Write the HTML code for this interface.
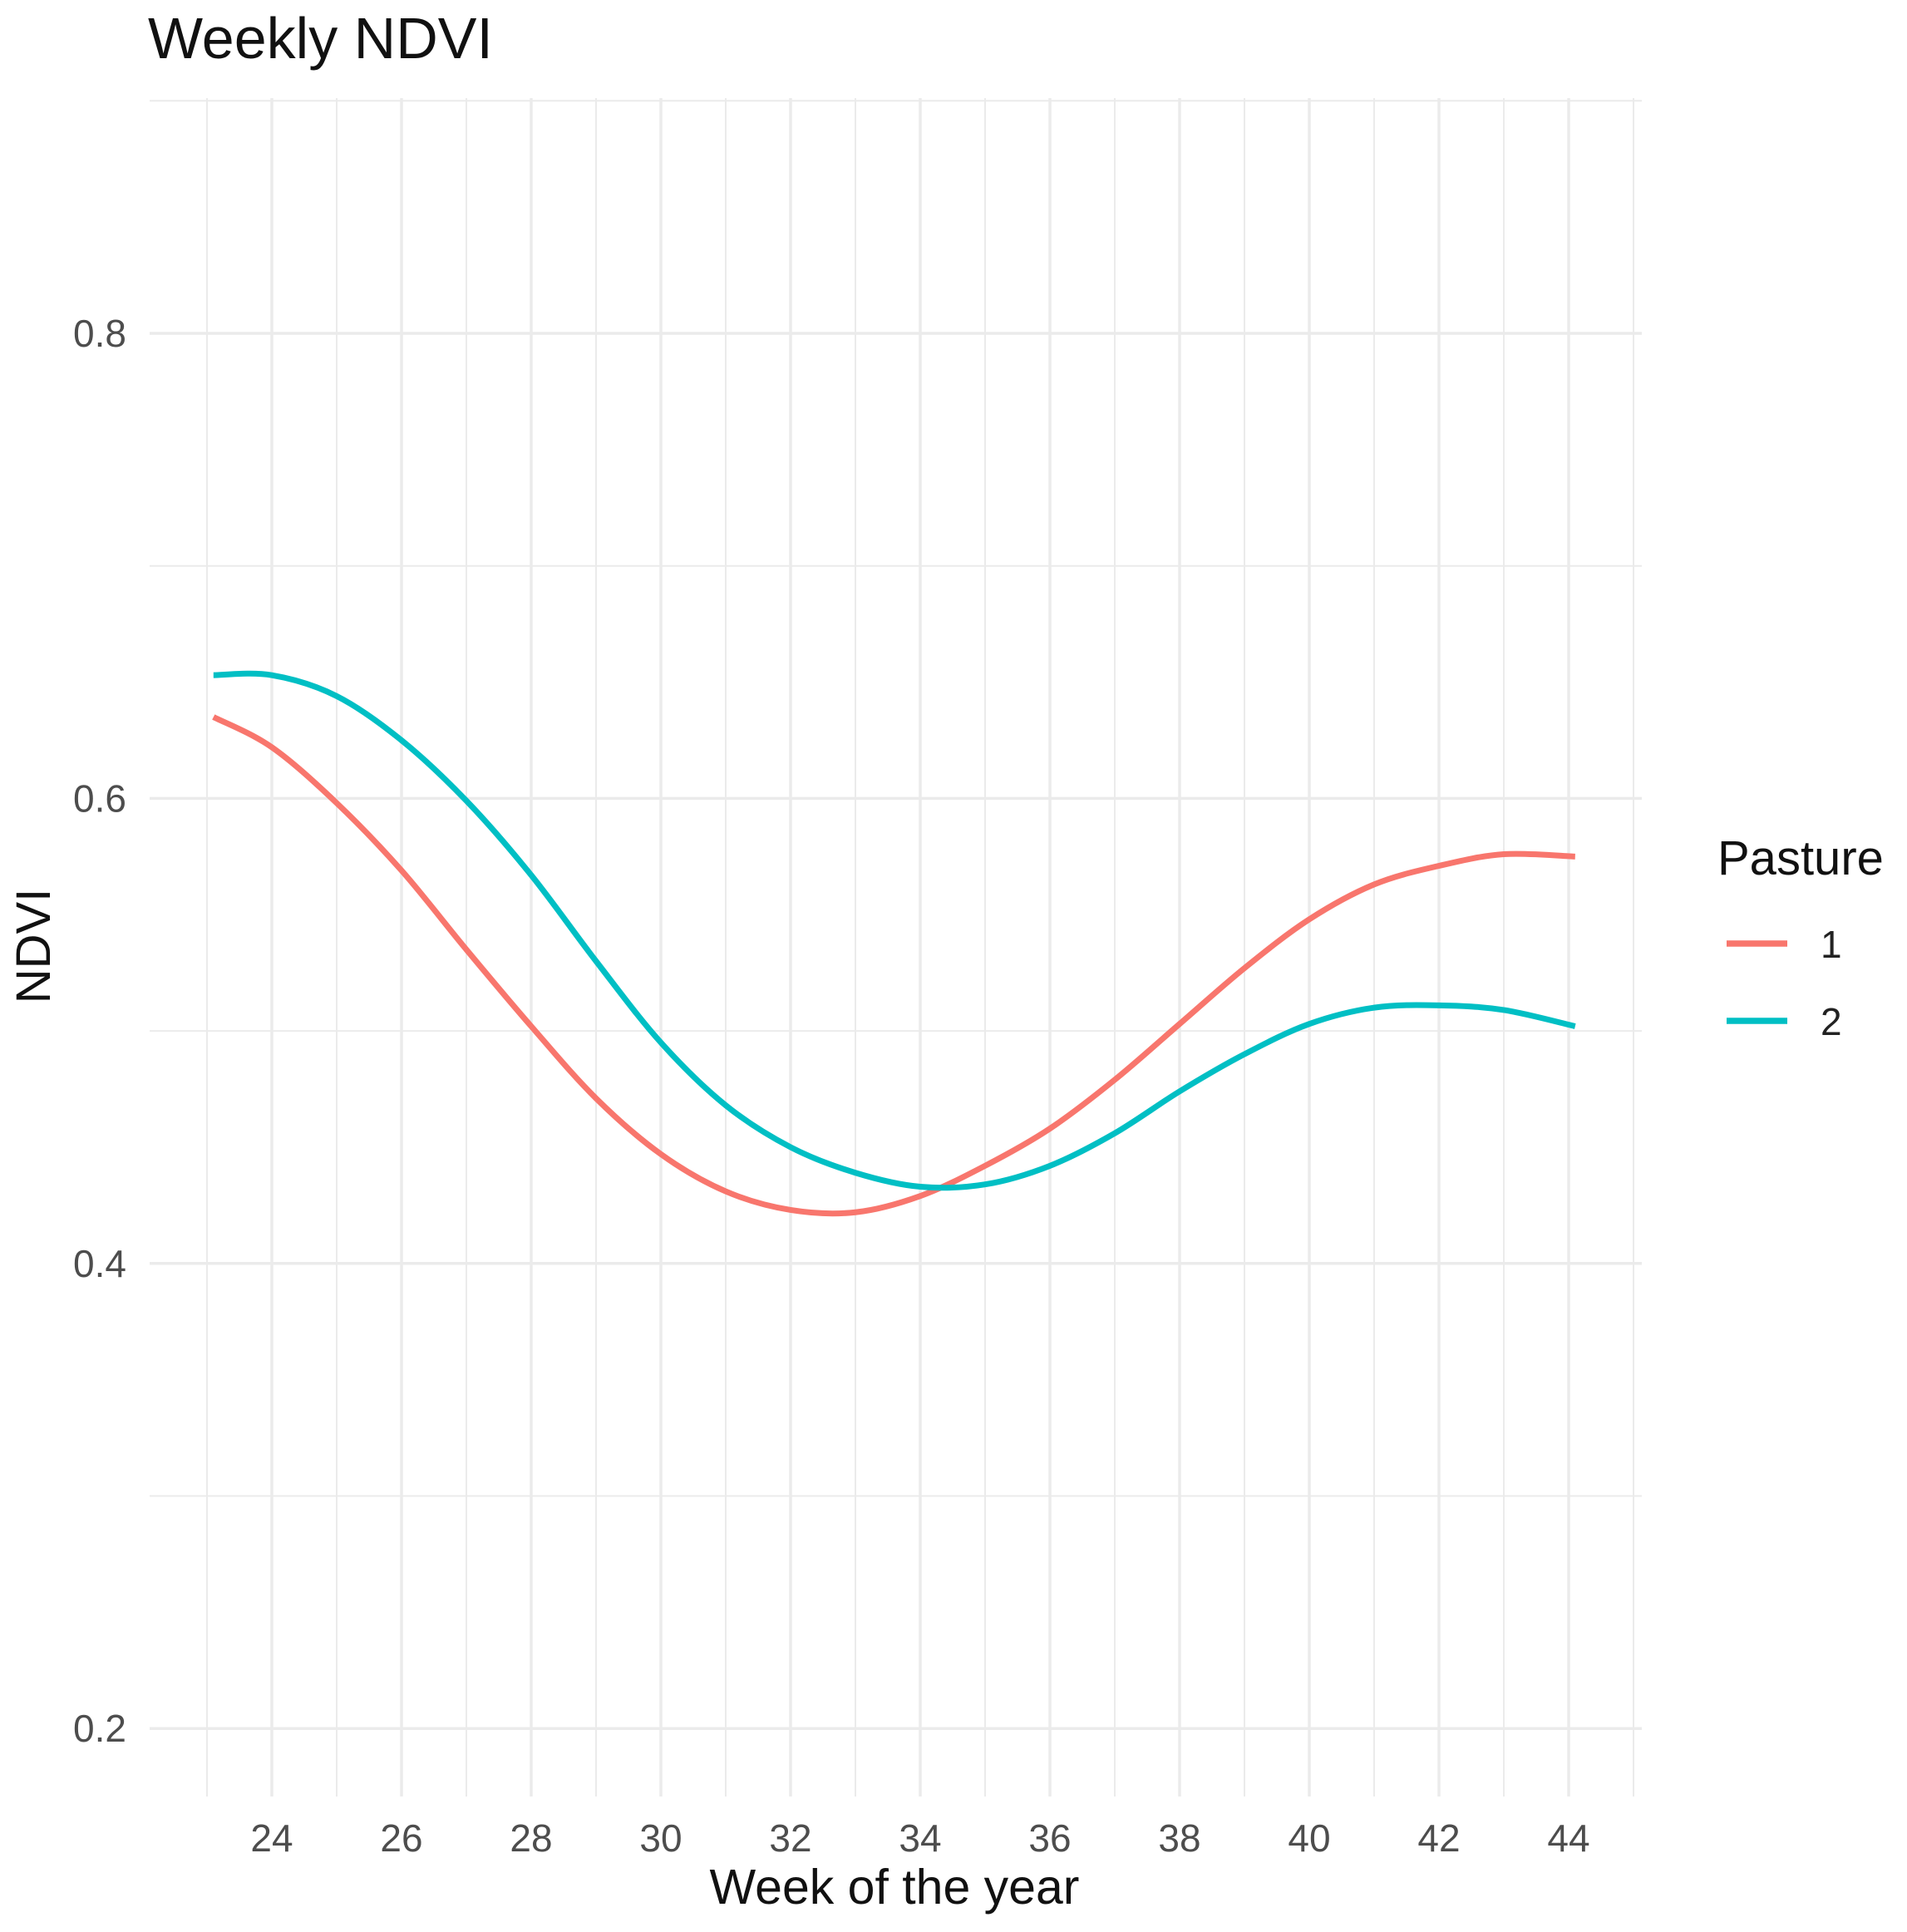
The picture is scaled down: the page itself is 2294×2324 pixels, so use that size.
<!DOCTYPE html>
<html><head><meta charset="utf-8"><style>
html,body{margin:0;padding:0;background:#fff;}
svg{display:block;font-family:"Liberation Sans",sans-serif;}
</style></head><body>
<svg id="chart" width="2294" height="2324" viewBox="0 0 2294 2324">
<text x="178" y="70" font-size="70" fill="#111">Weekly NDVI</text>
<g id="grid"></g>
<g id="yticks"></g>
<g id="xticks"></g>
<g id="lines"></g>
<text x="1076" y="2290" font-size="59" fill="#111" text-anchor="middle">Week of the year</text>
<text transform="translate(60,1138) rotate(-90)" font-size="58" fill="#111" text-anchor="middle">NDVI</text>
<g>
<text x="2066" y="1052" font-size="58" fill="#111">Pasture</text>
<g><line x1="2077" y1="1135" x2="2150" y2="1135" stroke="#F8766D" stroke-width="7.5"/><text x="2190" y="1152" font-size="46" fill="#222">1</text></g>
<g><line x1="2077" y1="1228" x2="2150" y2="1228" stroke="#00BFC4" stroke-width="7.5"/><text x="2190" y="1245" font-size="46" fill="#222">2</text></g>
</g>
</svg>
<script>
const weeks = [23.1,24,25,26,27,28,29,30,31,32,33,34,35,36,37,38,39,40,41,42,43,44.1];
const pasture1 = [0.635,0.622,0.598,0.569,0.535,0.502,0.471,0.447,0.431,0.423,0.422,0.429,0.442,0.458,0.479,0.503,0.527,0.548,0.563,0.571,0.576,0.575];
const pasture2 = [0.653,0.653,0.644,0.625,0.599,0.567,0.530,0.495,0.468,0.450,0.439,0.433,0.434,0.442,0.456,0.474,0.490,0.503,0.510,0.511,0.509,0.502];
const xTicks = [24,26,28,30,32,34,36,38,40,42,44];
const yTicks = [0.2,0.4,0.6,0.8];
const NS="http://www.w3.org/2000/svg";
const X=w=>327+(w-24)*78.0;
const Y=v=>401+(0.8-v)*2797;
const gTop=118,gBot=2161,gLeft=180,gRight=1975;
const grid=document.getElementById('grid');
function ln(x1,y1,x2,y2,sw,name){const l=document.createElementNS(NS,'line');l.setAttribute('x1',x1);l.setAttribute('y1',y1);l.setAttribute('x2',x2);l.setAttribute('y2',y2);l.setAttribute('stroke','#ebebeb');l.setAttribute('stroke-width',sw);


grid.appendChild(l);}
for(let w=23;w<=45;w++){ln(X(w),gTop,X(w),gBot,w%2?2:3.5,'x-gridline');}
for(let k=2;k<=9;k++){const v=k/10;ln(gLeft,Y(v),gRight,Y(v),k%2?2:3.5,'y-gridline');}
const yt=document.getElementById('yticks');
yTicks.forEach(v=>{const t=document.createElementNS(NS,'text');t.setAttribute('x',152);t.setAttribute('y',Y(v)+16);t.setAttribute('text-anchor','end');t.setAttribute('font-size','46');t.setAttribute('fill','#4d4d4d');t.textContent=v.toFixed(1);


yt.appendChild(t);});
const xt=document.getElementById('xticks');
xTicks.forEach(w=>{const t=document.createElementNS(NS,'text');t.setAttribute('x',X(w));t.setAttribute('y',2227);t.setAttribute('text-anchor','middle');t.setAttribute('font-size','46');t.setAttribute('fill','#4d4d4d');t.textContent=w;


xt.appendChild(t);});
function path(vals){const p=weeks.map((w,i)=>[X(w),Y(vals[i])]);let d='M'+p[0][0]+','+p[0][1];
for(let i=0;i<p.length-1;i++){const p0=p[i-1]||p[i],p1=p[i],p2=p[i+1],p3=p[i+2]||p2;
d+=' C'+(p1[0]+(p2[0]-p0[0])/6)+','+(p1[1]+(p2[1]-p0[1])/6)+' '+(p2[0]-(p3[0]-p1[0])/6)+','+(p2[1]-(p3[1]-p1[1])/6)+' '+p2[0]+','+p2[1];}return d;}
const lg=document.getElementById('lines');
[[pasture1,'#F8766D','line-pasture-1'],[pasture2,'#00BFC4','line-pasture-2']].forEach(([v,c,n])=>{const e=document.createElementNS(NS,'path');e.setAttribute('d',path(v));e.setAttribute('fill','none');e.setAttribute('stroke',c);e.setAttribute('stroke-width','7');


lg.appendChild(e);});
</script>
</body></html>
